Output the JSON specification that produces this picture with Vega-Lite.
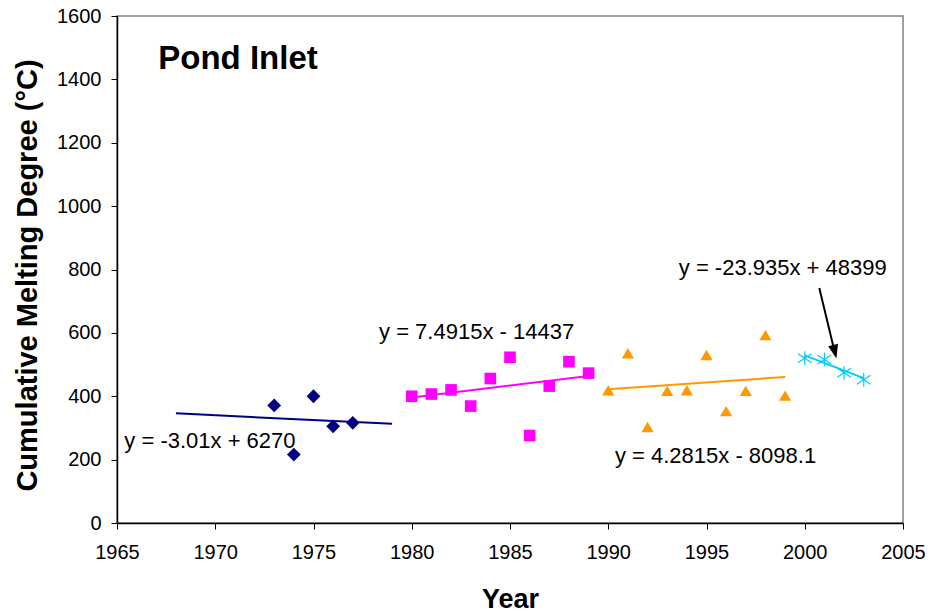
{
  "$schema": "https://vega.github.io/schema/vega-lite/v6.json",
  "autosize": {"type": "none"},
  "padding": {"left": 117, "top": 16, "right": 25, "bottom": 90},
  "width": 786,
  "height": 507,
  "background": "white",
  "config": {
    "view": {"stroke": "#808080", "strokeWidth": 1.5},
    "font": "Liberation Sans"
  },
  "datasets": {
    "points": [
      {"series": "A", "year": 1973, "value": 371},
      {"series": "A", "year": 1974, "value": 216},
      {"series": "A", "year": 1975, "value": 400},
      {"series": "A", "year": 1976, "value": 305},
      {"series": "A", "year": 1977, "value": 316},
      {"series": "B", "year": 1980, "value": 400},
      {"series": "B", "year": 1981, "value": 407},
      {"series": "B", "year": 1982, "value": 420},
      {"series": "B", "year": 1983, "value": 369},
      {"series": "B", "year": 1984, "value": 456},
      {"series": "B", "year": 1985, "value": 523},
      {"series": "B", "year": 1986, "value": 276},
      {"series": "B", "year": 1987, "value": 432},
      {"series": "B", "year": 1988, "value": 509},
      {"series": "B", "year": 1989, "value": 473},
      {"series": "C", "year": 1990, "value": 417},
      {"series": "C", "year": 1991, "value": 534},
      {"series": "C", "year": 1992, "value": 301},
      {"series": "C", "year": 1993, "value": 415},
      {"series": "C", "year": 1994, "value": 417},
      {"series": "C", "year": 1995, "value": 528},
      {"series": "C", "year": 1996, "value": 351},
      {"series": "C", "year": 1997, "value": 415},
      {"series": "C", "year": 1998, "value": 591},
      {"series": "C", "year": 1999, "value": 400},
      {"series": "D", "year": 2000, "value": 520},
      {"series": "D", "year": 2001, "value": 516},
      {"series": "D", "year": 2002, "value": 474},
      {"series": "D", "year": 2003, "value": 452}
    ],
    "trends": [
      {"series": "A", "year": 1968, "value": 346},
      {"series": "A", "year": 1979, "value": 313},
      {"series": "B", "year": 1980, "value": 396},
      {"series": "B", "year": 1989, "value": 464},
      {"series": "C", "year": 1990, "value": 422},
      {"series": "C", "year": 1999, "value": 461},
      {"series": "D", "year": 2000, "value": 529},
      {"series": "D", "year": 2003, "value": 457}
    ],
    "labels": [
      {"year": 1969.73, "value": 238, "text": "y = -3.01x + 6270"},
      {"year": 1983.3, "value": 582, "text": "y = 7.4915x - 14437"},
      {"year": 1995.46, "value": 189, "text": "y = 4.2815x - 8098.1"},
      {"year": 1998.88, "value": 784, "text": "y = -23.935x + 48399"}
    ],
    "title": [
      {"year": 1967.1, "value": 1434, "text": "Pond Inlet"}
    ],
    "arrow": [
      {"year": 2000.74, "value": 741.6, "year2": 2001.52, "value2": 540.4}
    ],
    "arrowhead": [
      {"year": 2001.61, "value": 518.8}
    ]
  },
  "layer": [
    {
      "data": {"name": "trends"},
      "mark": {"type": "line", "strokeWidth": 2},
      "encoding": {
        "x": {"field": "year", "type": "quantitative", "scale": {"domain": [1965, 2005], "nice": false, "zero": false},
          "axis": {"values": [1965, 1970, 1975, 1980, 1985, 1990, 1995, 2000, 2005], "format": "d", "grid": false,
            "domainColor": "black", "domainWidth": 1.5, "tickColor": "black", "tickSize": 6, "tickWidth": 1,
            "labelFont": "Liberation Sans", "labelFontSize": 20, "labelColor": "black", "labelPadding": 13,
            "labelFlush": false, "labelOverlap": false,
            "title": "Year", "titleFont": "Liberation Sans", "titleFontSize": 27, "titleFontWeight": "bold",
            "titleColor": "black", "titleBaseline": "alphabetic", "titleY": 84}},
        "y": {"field": "value", "type": "quantitative", "scale": {"domain": [0, 1600], "nice": false},
          "axis": {"values": [0, 200, 400, 600, 800, 1000, 1200, 1400, 1600], "format": "d", "grid": false,
            "domainColor": "black", "domainWidth": 1.5, "tickColor": "black", "tickSize": 6, "tickWidth": 1,
            "labelFont": "Liberation Sans", "labelFontSize": 20, "labelColor": "black", "labelPadding": 10,
            "labelFlush": false, "labelOverlap": false,
            "title": "Cumulative Melting Degree (°C)", "titleFont": "Liberation Sans", "titleFontSize": 29,
            "titleFontWeight": "bold", "titleColor": "black", "titleAngle": -90, "titleAlign": "center",
            "titleBaseline": "middle", "titleX": -90, "titleY": 259}},
        "color": {"field": "series", "type": "nominal",
          "scale": {"domain": ["A", "B", "C", "D"], "range": ["#000080", "#FF00FF", "#FF9900", "#00CCFF"]},
          "legend": null},
        "detail": {"field": "series"}
      }
    },
    {
      "data": {"name": "points"},
      "transform": [{"filter": "datum.series === 'A'"}],
      "mark": {"type": "point", "filled": true, "opacity": 1, "shape": "diamond", "size": 190},
      "encoding": {
        "x": {"field": "year", "type": "quantitative"},
        "y": {"field": "value", "type": "quantitative"},
        "color": {"field": "series", "type": "nominal", "legend": null}
      }
    },
    {
      "data": {"name": "points"},
      "transform": [{"filter": "datum.series === 'B'"}],
      "mark": {"type": "point", "filled": true, "opacity": 1, "shape": "square", "size": 135},
      "encoding": {
        "x": {"field": "year", "type": "quantitative"},
        "y": {"field": "value", "type": "quantitative"},
        "color": {"field": "series", "type": "nominal", "legend": null}
      }
    },
    {
      "data": {"name": "points"},
      "transform": [{"filter": "datum.series === 'C'"}],
      "mark": {"type": "point", "filled": true, "opacity": 1, "shape": "M0,-0.95L1,0.75L-1,0.75Z", "size": 150},
      "encoding": {
        "x": {"field": "year", "type": "quantitative"},
        "y": {"field": "value", "type": "quantitative"},
        "color": {"field": "series", "type": "nominal", "legend": null}
      }
    },
    {
      "data": {"name": "points"},
      "transform": [{"filter": "datum.series === 'D'"}],
      "mark": {"type": "point", "filled": false, "opacity": 1, "strokeWidth": 1.2, "size": 190,
        "shape": "M0,-1L0,1M-1,-0.65L1,0.65M-1,0.65L1,-0.65"},
      "encoding": {
        "x": {"field": "year", "type": "quantitative"},
        "y": {"field": "value", "type": "quantitative"},
        "color": {"field": "series", "type": "nominal", "legend": null}
      }
    },
    {
      "data": {"name": "arrow"},
      "mark": {"type": "rule", "color": "black", "strokeWidth": 2},
      "encoding": {
        "x": {"field": "year", "type": "quantitative"},
        "y": {"field": "value", "type": "quantitative"},
        "x2": {"field": "year2"},
        "y2": {"field": "value2"}
      }
    },
    {
      "data": {"name": "arrowhead"},
      "mark": {"type": "point", "filled": true, "opacity": 1, "color": "black", "size": 784, "angle": 346.5,
        "shape": "M0,0L-0.36,-1L0.36,-1Z"},
      "encoding": {
        "x": {"field": "year", "type": "quantitative"},
        "y": {"field": "value", "type": "quantitative"}
      }
    },
    {
      "data": {"name": "labels"},
      "mark": {"type": "text", "font": "Liberation Sans", "fontSize": 22, "color": "black", "baseline": "alphabetic", "align": "center"},
      "encoding": {
        "x": {"field": "year", "type": "quantitative"},
        "y": {"field": "value", "type": "quantitative"},
        "text": {"field": "text"}
      }
    },
    {
      "data": {"name": "title"},
      "mark": {"type": "text", "font": "Liberation Sans", "fontSize": 33, "fontWeight": "bold", "color": "black", "align": "left", "baseline": "alphabetic"},
      "encoding": {
        "x": {"field": "year", "type": "quantitative"},
        "y": {"field": "value", "type": "quantitative"},
        "text": {"field": "text"}
      }
    }
  ]
}
